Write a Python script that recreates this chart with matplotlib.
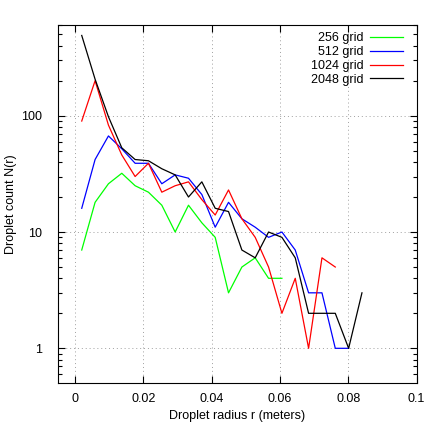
import numpy as np
import matplotlib
matplotlib.use("Agg")
import matplotlib.pyplot as plt
from matplotlib.ticker import LogLocator, NullFormatter, FixedLocator

plt.rcParams['font.family'] = ['Liberation Sans', 'DejaVu Sans']

# bin centres (meters)
radius = [0.00195, 0.00586, 0.00977, 0.01367, 0.01758, 0.02148, 0.02539,
          0.02930, 0.03320, 0.03711, 0.04102, 0.04492, 0.04883, 0.05273,
          0.05664, 0.06055, 0.06445, 0.06836, 0.07227, 0.07617, 0.08008,
          0.08398]

count_256 = [7, 18, 26, 32, 25, 22, 17, 10, 17, 12, 9, 3, 5, 6, 4, 4]
count_512 = [16, 42, 67, 52, 39, 39, 26, 31, 29, 21, 11, 18, 13, 11, 9, 10,
             7, 3, 3, 1, 1]
count_1024 = [90, 200, 83, 46, 30, 39, 22, 25, 27, 19, 14, 23, 13, 9, 5, 2,
              4, 1, 6, 5]
count_2048 = [490, 206, 98, 53, 42, 41, 35, 31, 20, 27, 16, 15, 7, 6, 10, 9,
              6, 2, 2, 2, 1, 3]

series = [("256 grid", count_256, "#00ff00"),
          ("512 grid", count_512, "#0000ff"),
          ("1024 grid", count_1024, "#ff0000"),
          ("2048 grid", count_2048, "#000000")]

fs = 9

fig = plt.figure(figsize=(4.36, 4.36), dpi=100)
ax = fig.add_axes([0.1330, 0.1222, 0.8227, 0.8211])

for label, vals, col in series:
    ax.plot(radius[:len(vals)], vals, color=col, lw=0.9, label=label)

ax.set_yscale("log")
ax.set_xlim(-0.005, 0.1)
ax.set_ylim(0.506, 606)

ax.xaxis.set_major_locator(FixedLocator([0, 0.02, 0.04, 0.06, 0.08, 0.1]))
ax.set_xticklabels(["0", "0.02", "0.04", "0.06", "0.08", "0.1"])
ax.yaxis.set_major_locator(FixedLocator([1, 10, 100]))
ax.set_yticklabels(["1", "10", "100"])
ax.yaxis.set_minor_locator(LogLocator(base=10, subs=np.arange(2, 10)))
ax.yaxis.set_minor_formatter(NullFormatter())

ax.tick_params(which="both", direction="in", top=True, right=True,
               labelsize=fs, width=0.8)
ax.tick_params(axis="y", which="major", length=5, pad=11.5)
ax.tick_params(axis="y", which="minor", length=3)
ax.tick_params(axis="x", which="major", length=5, pad=7.5)

ax.grid(True, which="major", color="#a0a0a0", lw=0.7, linestyle=(0, (1, 3)))

for s in ax.spines.values():
    s.set_linewidth(0.8)

ax.set_xlabel("Droplet radius r (meters)", fontsize=fs)
ax.set_ylabel("Droplet count N(r)", fontsize=fs)
ax.xaxis.set_label_coords(0.5, -0.076)
ax.yaxis.set_label_coords(-0.113, 0.5)

ax.legend(loc="upper right", bbox_to_anchor=(0.961, 0.979), frameon=False,
          markerfirst=False, fontsize=fs, handlelength=2.62,
          handletextpad=0.54, labelspacing=0.15, borderpad=0, borderaxespad=0)

fig.savefig("out.png", dpi=100)
